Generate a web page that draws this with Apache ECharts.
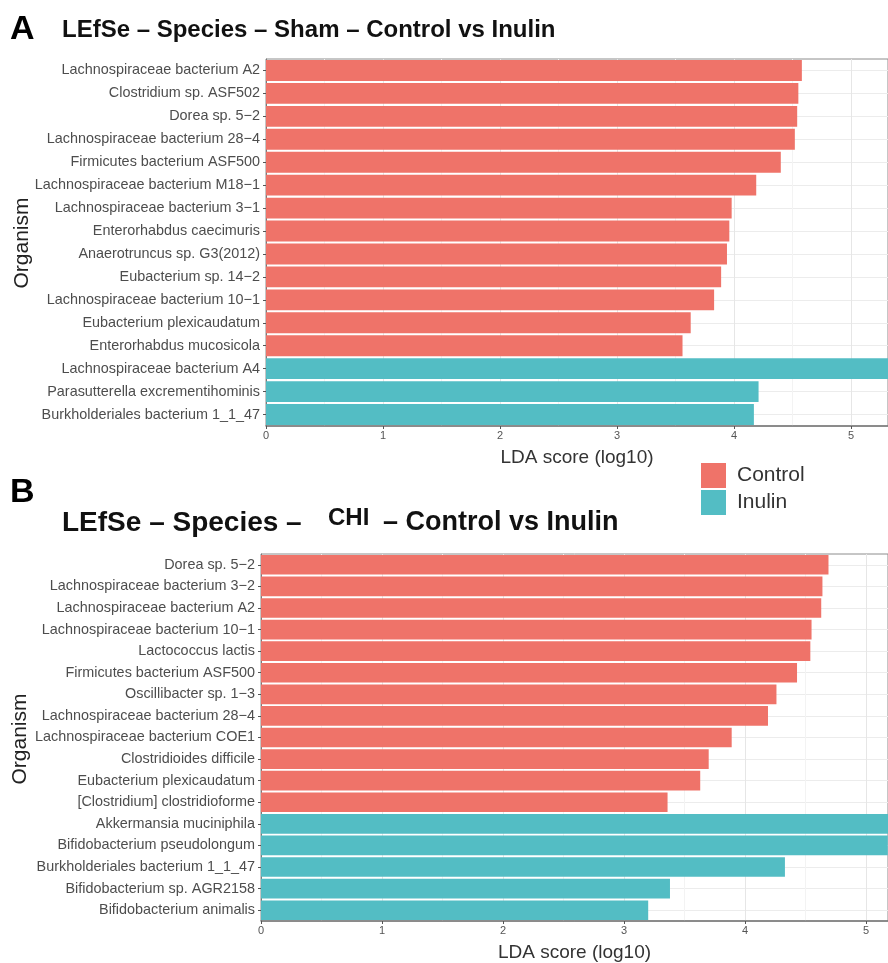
<!DOCTYPE html>
<html>
<head>
<meta charset="utf-8">
<script src="https://cdn.jsdelivr.net/npm/echarts@6/dist/echarts.min.js"></script>
<style>
  html, body { margin: 0; padding: 0; background: #fff; }
  #chart { width: 888px; height: 963px; }
</style>
</head>
<body>
<div id="chart"></div>
<script>
// panel A: Sham
var speciesA = [
  'Lachnospiraceae bacterium A2', 'Clostridium sp. ASF502', 'Dorea sp. 5\u22122',
  'Lachnospiraceae bacterium 28\u22124', 'Firmicutes bacterium ASF500',
  'Lachnospiraceae bacterium M18\u22121', 'Lachnospiraceae bacterium 3\u22121',
  'Enterorhabdus caecimuris', 'Anaerotruncus sp. G3(2012)', 'Eubacterium sp. 14\u22122',
  'Lachnospiraceae bacterium 10\u22121', 'Eubacterium plexicaudatum',
  'Enterorhabdus mucosicola', 'Lachnospiraceae bacterium A4',
  'Parasutterella excrementihominis', 'Burkholderiales bacterium 1_1_47'
]
var ldaA = [4.58, 4.55, 4.54, 4.52, 4.40, 4.19, 3.98, 3.96, 3.94, 3.89, 3.83, 3.63, 3.56, 5.5, 4.21, 4.17]
var groupA = ['Control','Control','Control','Control','Control','Control','Control',
  'Control','Control','Control','Control','Control','Control','Inulin','Inulin','Inulin']

// panel B: CHI
var speciesB = [
  'Dorea sp. 5\u22122', 'Lachnospiraceae bacterium 3\u22122', 'Lachnospiraceae bacterium A2',
  'Lachnospiraceae bacterium 10\u22121', 'Lactococcus lactis', 'Firmicutes bacterium ASF500',
  'Oscillibacter sp. 1\u22123', 'Lachnospiraceae bacterium 28\u22124',
  'Lachnospiraceae bacterium COE1', 'Clostridioides difficile', 'Eubacterium plexicaudatum',
  '[Clostridium] clostridioforme', 'Akkermansia muciniphila', 'Bifidobacterium pseudolongum',
  'Burkholderiales bacterium 1_1_47', 'Bifidobacterium sp. AGR2158', 'Bifidobacterium animalis'
]
var ldaB = [4.69, 4.64, 4.63, 4.55, 4.54, 4.43, 4.26, 4.19, 3.89, 3.70, 3.63, 3.36, 5.4, 5.18, 4.33, 3.38, 3.20]
var groupB = ['Control','Control','Control','Control','Control','Control','Control','Control',
  'Control','Control','Control','Control','Inulin','Inulin','Inulin','Inulin','Inulin']

var groups = ['Control', 'Inulin']
var colors = {Control: '#EF7369', Inulin: '#53BDC4'}

function pick(values, grp, name) {
  return values.map(function (v, i) { return grp[i] === name ? v : '-' })
}

function xAxisFor(idx, max) {
  return {
    gridIndex: idx, type: 'value', min: 0, max: max, interval: 1,
    name: 'LDA score (log10)', nameLocation: 'middle', nameGap: 22,
    nameTextStyle: {fontSize: 19, color: '#333', fontFamily: 'Liberation Sans'},
    axisLine: {show: true, lineStyle: {color: '#7a7a7a', width: 1.5}},
    axisTick: {show: true, length: 3, lineStyle: {color: '#555'}},
    axisLabel: {fontSize: 11, color: '#555', margin: 4, showMaxLabel: false,
      fontFamily: 'Liberation Sans'},
    splitLine: {show: true, lineStyle: {color: '#e6e6e6'}},
    minorTick: {show: false, splitNumber: 2},
    minorSplitLine: {show: true, lineStyle: {color: '#f3f3f3'}}
  }
}

function yAxisFor(idx, cats) {
  return {
    gridIndex: idx, type: 'category', data: cats, inverse: true,
    axisLine: {show: true, lineStyle: {color: '#7a7a7a'}},
    axisTick: {show: true, length: 3, alignWithLabel: true, lineStyle: {color: '#555'}},
    axisLabel: {fontSize: 14.4, color: '#4d4d4d', margin: 6, fontFamily: 'Liberation Sans'},
    splitLine: {show: true, alignWithLabel: true, lineStyle: {color: '#ececec'}}
  }
}

var series = []
groups.forEach(function (g) {
  series.push({
    name: g, type: 'bar', xAxisIndex: 0, yAxisIndex: 0, stack: 'a',
    data: pick(ldaA, groupA, g), barCategoryGap: '9%',
    itemStyle: {color: colors[g]}
  })
  series.push({
    name: g, type: 'bar', xAxisIndex: 1, yAxisIndex: 1, stack: 'b',
    data: pick(ldaB, groupB, g), barCategoryGap: '9%',
    itemStyle: {color: colors[g]}
  })
})

function label(x, y, text, size, extra) {
  var st = {text: text, fontSize: size, fontWeight: 'bold', fill: '#111',
    fontFamily: 'Liberation Sans', verticalAlign: 'middle'}
  return {type: 'text', x: x, y: y, style: Object.assign(st, extra || {})}
}

var chart = echarts.init(document.getElementById('chart'))
chart.setOption({
  animation: false,
  textStyle: {fontFamily: 'Liberation Sans'},
  grid: [
    {left: 266, top: 59, width: 622, height: 367, show: true, borderColor: '#8c8c8c', borderWidth: 1},
    {left: 261, top: 554, width: 627, height: 370, show: true, borderColor: '#8c8c8c', borderWidth: 1}
  ],
  xAxis: [xAxisFor(0, 622 / 117), xAxisFor(1, 627 / 121)],
  yAxis: [yAxisFor(0, speciesA), yAxisFor(1, speciesB)],
  legend: {
    data: groups, orient: 'vertical', left: 701, top: 463, padding: 0,
    icon: 'rect', itemWidth: 25, itemHeight: 25, itemGap: 2,
    textStyle: {fontSize: 21, color: '#333', padding: [0, 0, 0, 6]}
  },
  graphic: [
    label(10, 30, 'A', 34, {fill: '#000'}),
    label(62, 30, 'LEfSe \u2013 Species \u2013 Sham \u2013 Control vs Inulin', 24),
    label(10, 493, 'B', 34, {fill: '#000'}),
    label(62, 523, 'LEfSe \u2013 Species \u2013', 28),
    label(328, 518, 'CHI', 24),
    label(383, 523, '\u2013 Control vs Inulin', 27),
    {type: 'text', x: 22, y: 243, rotation: Math.PI / 2, style: {text: 'Organism', fontSize: 21, fill: '#222', align: 'center', verticalAlign: 'middle', fontFamily: 'Liberation Sans'}},
    {type: 'text', x: 20, y: 739, rotation: Math.PI / 2, style: {text: 'Organism', fontSize: 21, fill: '#222', align: 'center', verticalAlign: 'middle', fontFamily: 'Liberation Sans'}}
  ],
  series: series
})
</script>
</body>
</html>
